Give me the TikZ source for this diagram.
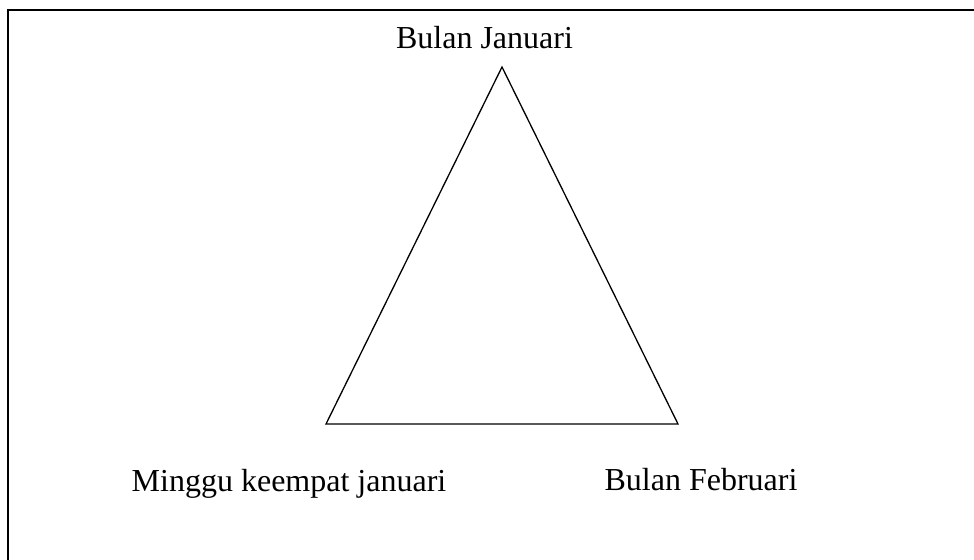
\documentclass[tikz,border=0pt]{standalone}
\usepackage{fontspec}
\setmainfont{Liberation Serif}
\usetikzlibrary{positioning}

\begin{document}
\begin{tikzpicture}[x=0.5pt,y=-0.5pt,
    lbl/.style={font=\fontsize{16}{19}\selectfont, inner sep=0pt, anchor=base},
    segi/.style={line width=0.65pt},
    bingkai/.style={line width=1.3pt}]
    \useasboundingbox (0,0) rectangle (974,560);

    % Frame
    \coordinate (fa) at (8,560);
    \coordinate (fb) at (8,10);
    \coordinate (fc) at (974,10);
    \draw[bingkai] (fa) -- (fb) -- (fc);

    % Triangle
    \coordinate (puncak) at (502,67);
    \coordinate (kiri) at (326,424);
    \coordinate (kanan) at (678,424);
    \draw[segi] (puncak) -- (kiri) -- (kanan) -- cycle;

    % Labels
    \node[lbl] (jan) at (484.5,49) {Bulan Januari};
    \node[lbl] (minggu) at (289,492) {Minggu keempat januari};
    \node[lbl] (feb) at (701,491) {Bulan Februari};
\end{tikzpicture}
\end{document}
